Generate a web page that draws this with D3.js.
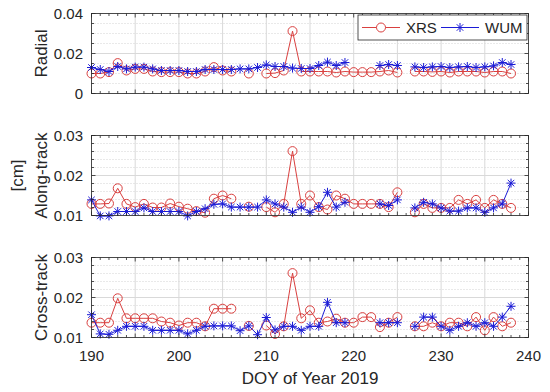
<!DOCTYPE html>
<html>
<head>
<meta charset="utf-8">
<script src="https://cdn.jsdelivr.net/npm/d3@7"></script>
<style>
body { margin: 0; background: #fff; }
svg text { font-family: "Liberation Sans", Arial, sans-serif; fill: #262626; }
</style>
</head>
<body>
<div id="chart"></div>
<script>
// day of year 2019 (226 missing for both solutions)
var days = [190, 191, 192, 193, 194, 195, 196, 197, 198, 199,
            200, 201, 202, 203, 204, 205, 206, 207, 208, 209,
            210, 211, 212, 213, 214, 215, 216, 217, 218, 219,
            220, 221, 222, 223, 224, 225, 226, 227, 228, 229,
            230, 231, 232, 233, 234, 235, 236, 237, 238];

var seriesNames = ["XRS", "WUM"];

// radial
var xrsRadial = [0.0100, 0.0100, 0.0107, 0.0152, 0.0115, 0.0123, 0.0123, 0.0110, 0.0107, 0.0107,
                 0.0107, 0.0100, 0.0100, 0.0110, 0.0132, 0.0115, 0.0110, null, 0.0100, null,
                 0.0100, 0.0102, 0.0115, 0.0312, 0.0110, 0.0110, 0.0110, 0.0110, 0.0105, 0.0110,
                 0.0107, 0.0107, 0.0107, 0.0110, 0.0115, 0.0105, null, 0.0110, 0.0110, 0.0108,
                 0.0110, 0.0105, 0.0110, 0.0110, 0.0110, 0.0105, 0.0110, 0.0110, 0.0100];
var wumRadial = [0.0130, 0.0120, 0.0110, 0.0135, 0.0123, 0.0132, 0.0132, 0.0123, 0.0115, 0.0115,
                 0.0115, 0.0110, 0.0110, 0.0120, 0.0120, 0.0120, 0.0120, 0.0123, 0.0123, 0.0130,
                 0.0143, 0.0135, 0.0135, 0.0127, 0.0125, 0.0125, 0.0140, 0.0157, 0.0140, 0.0155,
                 null, null, null, 0.0140, 0.0145, 0.0140, null, 0.0133, 0.0130, 0.0133,
                 0.0135, 0.0130, 0.0133, 0.0135, 0.0130, 0.0133, 0.0138, 0.0155, 0.0145];

// along-track
var xrsAlong = [0.0129, 0.0129, 0.0130, 0.0168, 0.0129, 0.0121, 0.0129, 0.0120, 0.0120, 0.0130,
                0.0122, 0.0117, 0.0111, 0.0107, 0.0142, 0.0150, 0.0142, null, 0.0122, null,
                0.0121, 0.0108, 0.0129, 0.0261, 0.0129, 0.0150, 0.0121, 0.0115, 0.0150, 0.0142,
                0.0129, 0.0129, 0.0129, 0.0129, 0.0121, 0.0158, null, 0.0108, 0.0129, 0.0119,
                0.0119, 0.0119, 0.0139, 0.0129, 0.0139, 0.0119, 0.0139, 0.0129, 0.0119];
var wumAlong = [0.0139, 0.0099, 0.0099, 0.0110, 0.0110, 0.0110, 0.0119, 0.0110, 0.0110, 0.0110,
                0.0110, 0.0099, 0.0110, 0.0117, 0.0128, 0.0129, 0.0121, 0.0121, 0.0121, 0.0121,
                0.0139, 0.0129, 0.0121, 0.0108, 0.0121, 0.0108, 0.0122, 0.0158, 0.0121, 0.0133,
                null, null, null, 0.0129, 0.0125, 0.0139, null, 0.0119, 0.0133, 0.0129,
                0.0119, 0.0111, 0.0111, 0.0119, 0.0119, 0.0108, 0.0119, 0.0129, 0.0181];

// cross-track
var xrsCross = [0.0137, 0.0137, 0.0137, 0.0198, 0.0148, 0.0148, 0.0148, 0.0148, 0.0140, 0.0137,
                0.0130, 0.0137, 0.0137, 0.0128, 0.0172, 0.0172, 0.0172, null, 0.0129, null,
                0.0130, 0.0109, 0.0128, 0.0261, 0.0148, 0.0168, 0.0137, 0.0140, 0.0147, 0.0137,
                0.0137, 0.0151, 0.0151, 0.0126, 0.0137, 0.0151, null, 0.0128, 0.0128, 0.0137,
                0.0128, 0.0137, 0.0137, 0.0128, 0.0151, 0.0118, 0.0151, 0.0128, 0.0137];
var wumCross = [0.0157, 0.0109, 0.0108, 0.0118, 0.0128, 0.0128, 0.0128, 0.0118, 0.0118, 0.0118,
                0.0118, 0.0109, 0.0118, 0.0128, 0.0129, 0.0129, 0.0129, 0.0117, 0.0129, 0.0107,
                0.0150, 0.0119, 0.0128, 0.0128, 0.0118, 0.0128, 0.0128, 0.0188, 0.0137, 0.0137,
                null, null, null, 0.0137, 0.0137, 0.0137, null, 0.0128, 0.0151, 0.0151,
                0.0128, 0.0118, 0.0128, 0.0137, 0.0128, 0.0137, 0.0128, 0.0151, 0.0178];

var panelLabels = ["Radial", "Along-track", "Cross-track"];
var radialTicks = [0, 0.02, 0.04];
var trackTicks = [0.01, 0.02, 0.03];
var xTickLabels = [190, 200, 210, 220, 230, 240];

var red = "#d9403f", blue = "#1b1bd6", axisColor = "#262626";

var width = 550, height = 392;
var plotLeft = 91.5, plotRight = 528.5, panelH = 80;
var panelTops = [13.5, 135.5, 257.5];

var panels = [
    {label: panelLabels[0], xrs: xrsRadial, wum: wumRadial, domain: [0, 0.04], ticks: radialTicks, minorStep: 0.005},
    {label: panelLabels[1], xrs: xrsAlong, wum: wumAlong, domain: [0.01, 0.03], ticks: trackTicks, minorStep: 0.002},
    {label: panelLabels[2], xrs: xrsCross, wum: wumCross, domain: [0.01, 0.03], ticks: trackTicks, minorStep: 0.002}
];

var svg = d3.select("#chart").append("svg")
    .attr("width", width)
    .attr("height", height);

var x = d3.scaleLinear().domain([190, 240]).range([plotLeft, plotRight]);
var xGrid = d3.range(190, 240.1, 5);
var xMinor = d3.range(190, 240.1, 1);

var starPath = function(r){
    var d = r * 0.72;
    return "M" + (-r) + ",0L" + r + ",0M0," + (-r) + "L0," + r +
        "M" + (-d) + "," + (-d) + "L" + d + "," + d +
        "M" + (-d) + "," + d + "L" + d + "," + (-d);
};

var fmt = function(v){ return v === 0 ? "0" : d3.format(".2f")(v); };

panels.forEach(function(p, i){
    var top = panelTops[i], bottom = top + panelH;
    var y = d3.scaleLinear().domain(p.domain).range([bottom, top]);
    var g = svg.append("g");

    var yMinor = d3.range(p.domain[0], p.domain[1] + 1e-9, p.minorStep)
        .filter(function(v){ return p.ticks.every(function(t){ return Math.abs(t - v) > 1e-9; }); });

    // minor y grid (dotted)
    g.selectAll(".ymin").data(yMinor).enter().append("line")
        .attr("x1", plotLeft).attr("x2", plotRight)
        .attr("y1", function(d){ return y(d); }).attr("y2", function(d){ return y(d); })
        .attr("stroke", "#c8c8c8").attr("stroke-width", 0.8)
        .attr("stroke-dasharray", "1,2");

    // major grid
    g.selectAll(".ymaj").data(p.ticks).enter().append("line")
        .attr("x1", plotLeft).attr("x2", plotRight)
        .attr("y1", function(d){ return y(d); }).attr("y2", function(d){ return y(d); })
        .attr("stroke", "#d9d9d9").attr("stroke-width", 1);
    g.selectAll(".xmaj").data(xGrid).enter().append("line")
        .attr("x1", function(d){ return x(d); }).attr("x2", function(d){ return x(d); })
        .attr("y1", top).attr("y2", bottom)
        .attr("stroke", "#d9d9d9").attr("stroke-width", 1);

    // series
    var series = [{vals: p.xrs, color: red, marker: "circle"}, {vals: p.wum, color: blue, marker: "star"}];
    series.forEach(function(s){
        var pts = days.map(function(d, k){ return {day: d, v: s.vals[k]}; });
        var line = d3.line()
            .defined(function(d){ return d.v != null; })
            .x(function(d){ return x(d.day); })
            .y(function(d){ return y(d.v); });
        g.append("path").datum(pts)
            .attr("d", line)
            .attr("fill", "none")
            .attr("stroke", s.color)
            .attr("stroke-width", 1);
        var valid = pts.filter(function(d){ return d.v != null; });
        if (s.marker === "circle") {
            g.selectAll(".c").data(valid).enter().append("circle")
                .attr("cx", function(d){ return x(d.day); })
                .attr("cy", function(d){ return y(d.v); })
                .attr("r", 4.5)
                .attr("fill", "none")
                .attr("stroke", s.color)
                .attr("stroke-width", 1);
        } else {
            g.selectAll(".s").data(valid).enter().append("path")
                .attr("transform", function(d){ return "translate(" + x(d.day) + "," + y(d.v) + ")"; })
                .attr("d", starPath(4.5))
                .attr("fill", "none")
                .attr("stroke", s.color)
                .attr("stroke-width", 1);
        }
    });

    // box
    g.append("rect")
        .attr("x", plotLeft).attr("y", top)
        .attr("width", plotRight - plotLeft).attr("height", panelH)
        .attr("fill", "none").attr("stroke", axisColor).attr("stroke-width", 0.8);

    // x ticks (inside, top & bottom)
    g.selectAll(".xt").data(xMinor).enter().append("path")
        .attr("d", function(d){
            var len = (d % 5 === 0) ? 4 : 2.5;
            return "M" + x(d) + "," + bottom + "v" + (-len) + "M" + x(d) + "," + top + "v" + len;
        })
        .attr("stroke", axisColor).attr("stroke-width", 0.8);

    // y ticks (inside, left & right)
    g.selectAll(".yt").data(p.ticks.concat(yMinor)).enter().append("path")
        .attr("d", function(d){
            var len = p.ticks.indexOf(d) >= 0 ? 4 : 2.5;
            return "M" + plotLeft + "," + y(d) + "h" + len + "M" + plotRight + "," + y(d) + "h" + (-len);
        })
        .attr("stroke", axisColor).attr("stroke-width", 0.8);

    // y tick labels
    g.selectAll(".yl").data(p.ticks).enter().append("text")
        .attr("x", 83).attr("y", function(d){ return y(d); })
        .attr("dy", "0.35em")
        .attr("text-anchor", "end")
        .style("font-size", "15px")
        .text(fmt);

    // panel label
    g.append("text")
        .attr("transform", "translate(47," + (top + panelH / 2) + ") rotate(-90)")
        .attr("text-anchor", "middle")
        .style("font-size", "17px")
        .text(p.label);

    if (i === panels.length - 1) {
        g.selectAll(".xl").data(xTickLabels).enter().append("text")
            .attr("x", function(d){ return x(d); })
            .attr("y", bottom + 23)
            .attr("text-anchor", "middle")
            .style("font-size", "15px")
            .text(function(d){ return d; });
        g.append("text")
            .attr("x", (plotLeft + plotRight) / 2)
            .attr("y", bottom + 46)
            .attr("text-anchor", "middle")
            .style("font-size", "17px")
            .text("DOY of Year 2019");
    }
});

// shared unit label
svg.append("text")
    .attr("transform", "translate(23," + (panelTops[1] + panelH / 2) + ") rotate(-90)")
    .attr("text-anchor", "middle")
    .style("font-size", "17px")
    .text("[cm]");

// legend
var legend = svg.append("g").attr("transform", "translate(358,15)");
legend.append("rect")
    .attr("width", 169).attr("height", 25)
    .attr("fill", "#fff").attr("stroke", axisColor).attr("stroke-width", 0.8);
var items = [
    {name: seriesNames[0], color: red, marker: "circle", x0: 4},
    {name: seriesNames[1], color: blue, marker: "star", x0: 83}
];
items.forEach(function(it){
    var lg = legend.append("g").attr("transform", "translate(" + it.x0 + ",12.5)");
    lg.append("line").attr("x1", 0).attr("x2", 38)
        .attr("stroke", it.color).attr("stroke-width", 1);
    if (it.marker === "circle") {
        lg.append("circle").attr("cx", 19).attr("r", 4.5)
            .attr("fill", "#fff").attr("stroke", it.color);
    } else {
        lg.append("path").attr("transform", "translate(19,0)")
            .attr("d", starPath(4.5)).attr("fill", "none").attr("stroke", it.color);
    }
    lg.append("text").attr("x", 44).attr("dy", "0.36em")
        .style("font-size", "15px")
        .text(it.name);
});
</script>
</body>
</html>
